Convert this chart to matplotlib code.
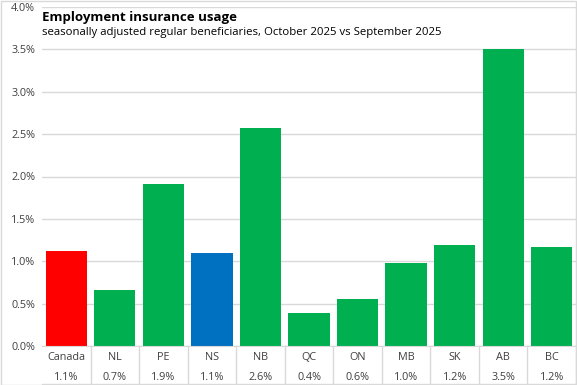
import matplotlib.pyplot as plt
import numpy as np

provinces = ["Canada", "NL", "PE", "NS", "NB", "QC", "ON", "MB", "SK", "AB", "BC"]
change = [1.12, 0.66, 1.91, 1.10, 2.57, 0.39, 0.56, 0.98, 1.19, 3.50, 1.17]
table_labels = ["1.1%", "0.7%", "1.9%", "1.1%", "2.6%", "0.4%", "0.6%", "1.0%", "1.2%", "3.5%", "1.2%"]
bar_colors = ["#ff0000", "#00b050", "#00b050", "#0070c0", "#00b050", "#00b050",
              "#00b050", "#00b050", "#00b050", "#00b050", "#00b050"]

plt.rcParams['font.family'] = ['Open Sans', 'DejaVu Sans']
grid_col = "#d9d9d9"

fig = plt.figure(figsize=(5.77, 3.85), dpi=100)
W, H = 577, 385
x0, x1, y0, y1 = 42, 576, 346, 7
ax = fig.add_axes([x0 / W, 1 - y0 / H, (x1 - x0) / W, (y0 - y1) / H])

n = len(provinces)
x = np.arange(n)
ax.bar(x, change, width=0.85, color=bar_colors, zorder=2)
ax.set_xlim(-0.5, n - 0.5)
ax.set_ylim(0, 4)
ax.set_yticks(np.arange(0, 4.01, 0.5))
ax.set_yticklabels([f"{v:.1f}%" for v in np.arange(0, 4.01, 0.5)], fontsize=7.8, color="#404040")
ax.tick_params(axis='y', length=0, pad=5)
ax.set_xticks([])
ax.grid(axis='y', color=grid_col, linewidth=1, zorder=0)
for s in ["left", "top"]:
    ax.spines[s].set_visible(False)
ax.spines["right"].set_color(grid_col)
ax.spines["bottom"].set_color(grid_col)

# data table below the axis
trans = ax.get_xaxis_transform()
row_h = 20 / (y0 - y1)
bottom_y = -(384 - y0) / (y0 - y1)
for i in range(n):
    ax.text(x[i], -0.5 * row_h - 0.005, provinces[i], transform=trans, ha='center', va='center',
            fontsize=7.8, color="#404040", clip_on=False)
    ax.text(x[i], -1.5 * row_h - 0.005, table_labels[i], transform=trans, ha='center', va='center',
            fontsize=7.8, color="#404040", clip_on=False)
for b in np.arange(0.5, n - 0.5 + 0.01, 1.0):
    ax.plot([b, b], [0, bottom_y], transform=trans, color=grid_col, lw=1, clip_on=False)
ax.plot([-0.5, n - 0.5], [bottom_y, bottom_y], transform=trans, color=grid_col, lw=1, clip_on=False)

fig.text(x0 / W, 1 - 17.5 / H, "Employment insurance usage", fontsize=9.5, fontweight='bold',
         va='center', ha='left', color="black")
fig.text(x0 / W, 1 - 32.5 / H, "seasonally adjusted regular beneficiaries, October 2025 vs September 2025",
         fontsize=8.2, va='center', ha='left', color="black")

fig.patches.append(plt.Rectangle((0.001, 0.001), 0.998, 0.997, transform=fig.transFigure,
                                 fill=False, edgecolor=grid_col, lw=1))

fig.savefig("out.png", dpi=100)
